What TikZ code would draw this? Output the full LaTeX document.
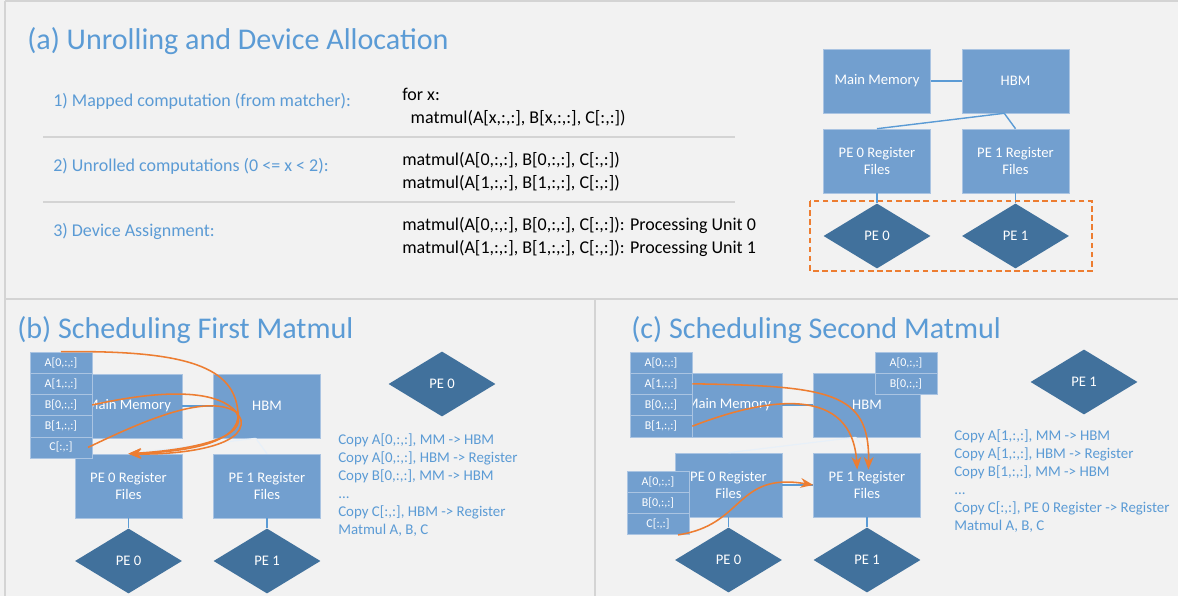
\documentclass[tikz,border=0pt]{standalone}
\usepackage{fontspec}
\setmainfont{Carlito}
\usetikzlibrary{shapes.geometric, arrows.meta, positioning}

\definecolor{panelbg}{RGB}{242,242,242}
\definecolor{panelrule}{RGB}{212,212,212}
\definecolor{boxblue}{RGB}{114,159,207}
\definecolor{boxedge}{RGB}{170,196,226}
\definecolor{pedark}{RGB}{65,113,156}
\definecolor{linkblue}{RGB}{91,155,213}
\definecolor{moveorange}{RGB}{237,125,49}

\tikzset{
  mem box/.style={draw=boxedge, fill=boxblue, text=white, align=center,
    minimum width=2.675cm, minimum height=1.6cm, inner sep=1pt,
    font=\fontsize{10.4}{12.6}\selectfont},
  pe node/.style={diamond, fill=pedark, text=white, inner sep=0pt,
    minimum width=2.675cm, minimum height=1.625cm,
    font=\fontsize{10.4}{12.6}\selectfont},
  tensor cell/.style={draw=boxedge, fill=boxblue, text=white, inner sep=0pt,
    minimum width=1.55cm, minimum height=0.53cm,
    font=\fontsize{8.5}{9}\selectfont},
  link/.style={linkblue, line width=1pt},
  faint link/.style={white!85!linkblue, line width=0.8pt},
  move/.style={moveorange, line width=1.1pt, -{Stealth[length=9pt,width=7pt]}},
  panel title/.style={anchor=west, inner sep=0pt, text=linkblue,
    font=\fontsize{21.4}{25}\selectfont},
  row label/.style={anchor=west, inner sep=0pt, text=linkblue,
    font=\fontsize{12.8}{16.3}\selectfont},
  code text/.style={anchor=west, inner sep=0pt, align=left, text=black,
    font=\fontsize{12.8}{16.3}\selectfont},
  op list/.style={anchor=north west, inner sep=0pt, align=left, text=linkblue,
    font=\fontsize{10.6}{12.9}\selectfont},
  rule line/.style={panelrule, line width=1.4pt}
}

\begin{document}
\begin{tikzpicture}[x=0.025cm, y=-0.025cm]

  \fill[panelbg] (0,0) rectangle (1178,596);
  \useasboundingbox (0,0) rectangle (1178,596);
  \draw[rule line] (5,1) -- (1178,1);
  \draw[rule line] (5,1) -- (5,596);
  \draw[rule line] (5,299) -- (1178,299);
  \draw[rule line] (595,299) -- (595,596);

  % (a) unrolling
  \node[panel title] (title-a) at (27,41) {(a) Unrolling and Device Allocation};

  \node[row label] (lbl-1) at (53,101) {1) Mapped computation (from matcher):};
  \node[code text] (code-1) at (402,107.5)
    {for x:\\\hspace*{6pt}matmul(A[x,:,:], B[x,:,:], C[:,:])};
  \draw[rule line] (43,137) -- (735,137);

  \node[row label] (lbl-2) at (53,166) {2) Unrolled computations (0 <= x < 2):};
  \node[code text] (code-2) at (402,172)
    {matmul(A[0,:,:], B[0,:,:], C[:,:])\\matmul(A[1,:,:], B[1,:,:], C[:,:])};
  \draw[rule line] (43,202) -- (735,202);

  \node[row label] (lbl-3) at (53,231) {3) Device Assignment:};
  \node[code text] (code-3) at (402,237)
    {matmul(A[0,:,:], B[0,:,:], C[:,:]): Processing Unit 0\\matmul(A[1,:,:], B[1,:,:], C[:,:]): Processing Unit 1};

  % memory hierarchy, one copy per panel
  \foreach \p/\dx/\dy/\ls in {a/0/0/link, b/-748.5/325/faint link, c/-148.5/324/faint link}
  {
    \begin{scope}[shift={(\dx,\dy)}]
      \node[mem box] (\p-mm) at (877,81) {Main Memory};
      \node[mem box] (\p-hbm) at (1015.5,81) {HBM};
      \node[mem box] (\p-rf0) at (877,161) {PE 0 Register\\Files};
      \node[mem box] (\p-rf1) at (1015.5,161) {PE 1 Register\\Files};
      \node[pe node] (\p-pe0) at (877,236) {PE 0};
      \node[pe node] (\p-pe1) at (1015.5,236) {PE 1};
      \draw[link] (\p-mm) -- (\p-hbm);
      \draw[\ls] ([xshift=-8pt]\p-hbm.south) -- (\p-rf0.north);
      \draw[\ls] ([xshift=-8pt]\p-hbm.south) -- (\p-rf1.north);
      \draw[link] (\p-rf0) -- (\p-pe0);
      \draw[link] (\p-rf1) -- (\p-pe1);
    \end{scope}
  }
  \draw[moveorange, line width=1.4pt, dash pattern=on 4pt off 2.5pt]
    (810,201) rectangle (1092,271);

  % (b) first matmul
  \node[panel title] (title-b) at (17,330) {(b) Scheduling First Matmul};

  \foreach \l [count=\i] in {{A[0,:,:]},{A[1,:,:]},{B[0,:,:]},{B[1,:,:]},{C[:,:]}}
  \node[tensor cell] (b-mm-\i) at (61,341.4+21.2*\i) {\l};

  \draw[move] (b-mm-1.north) .. controls (190,350) and (234,368) .. (238,412)
    .. controls (242,445) and (180,452) .. (b-rf0.north);
  \draw[move] (b-mm-3.east) .. controls (150,392) and (226,384) .. (241,420)
    .. controls (246,448) and (175,455) .. (b-rf0.north);
  \draw[move] ([xshift=-3pt]b-mm-5.east) .. controls (135,425) and (205,392) .. (236,412)
    .. controls (252,438) and (190,450) .. (b-rf0.north);

  \node[pe node] (b-pe) at (442,384) {PE 0};
  \node[op list] (b-ops) at (338,433)
    {Copy A[0,:,:], MM -> HBM\\Copy A[0,:,:], HBM -> Register\\Copy B[0,:,:], MM -> HBM\\...\\Copy C[:,:], HBM -> Register\\Matmul A, B, C};

  % (c) second matmul
  \node[panel title] (title-c) at (631,330) {(c) Scheduling Second Matmul};
  \draw[link] (c-rf0) -- (c-rf1);

  \foreach \l [count=\i] in {{A[0,:,:]},{A[1,:,:]},{B[0,:,:]},{B[1,:,:]}}
  \node[tensor cell] (c-mm-\i) at (661,341.4+21.2*\i) {\l};
  \foreach \l [count=\i] in {{A[0,:,:]},{B[0,:,:]}}
  \node[tensor cell] (c-hbm-\i) at (906,341.4+21.2*\i) {\l};
  \foreach \l [count=\i] in {{A[0,:,:]},{B[0,:,:]},{C[:,:]}}
  \node[tensor cell] (c-rf-\i) at (658,460.4+21.2*\i) {\l};

  \draw[move] (c-mm-2.east) .. controls (830,386) and (870,392)
    .. ([xshift=1pt,yshift=-12pt]c-rf1.north);
  \draw[move] (c-mm-4.east) .. controls (770,396) and (852,386)
    .. ([xshift=-7pt,yshift=-12pt]c-rf1.north);
  \draw[move] ([xshift=-8pt]c-rf-3.south east) .. controls (745,525) and (735,472)
    .. (c-rf1.west);

  \node[pe node] (c-pe) at (1084,382) {PE 1};
  \node[op list] (c-ops) at (954,429)
    {Copy A[1,:,:], MM -> HBM\\Copy A[1,:,:], HBM -> Register\\Copy B[1,:,:], MM -> HBM\\...\\Copy C[:,:], PE 0 Register -> Register\\Matmul A, B, C};

\end{tikzpicture}
\end{document}
